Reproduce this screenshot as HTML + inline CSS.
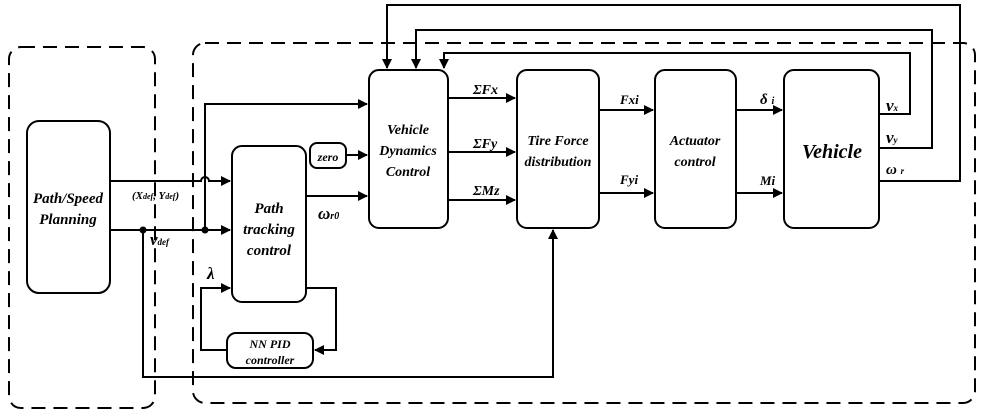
<!DOCTYPE html>
<html><head><style>
body{margin:0;background:#fff;}
svg{display:block;}
text{font-family:"Liberation Serif",serif;font-weight:bold;font-style:italic;fill:#000;}
</style></head><body>
<svg width="982" height="418" viewBox="0 0 982 418" xmlns="http://www.w3.org/2000/svg">
<defs><marker id="a" markerWidth="10" markerHeight="10" refX="9" refY="5" orient="auto" markerUnits="userSpaceOnUse"><path d="M0,0 L10,5 L0,10 z" fill="#000"/></marker></defs>
<g fill="none" stroke="#000" stroke-width="2" stroke-dasharray="14,8">
<rect x="9" y="47" width="146" height="361" rx="12"/>
<rect x="193" y="43" width="782" height="360" rx="12"/>
</g>
<g fill="#fff" stroke="#000" stroke-width="2">
<rect x="27" y="121" width="83" height="172" rx="12"/>
<rect x="232" y="146" width="74" height="156" rx="10"/>
<rect x="310" y="143" width="36" height="25" rx="7"/>
<rect x="227" y="333" width="86" height="35" rx="9"/>
<rect x="369" y="70" width="79" height="158" rx="10"/>
<rect x="517" y="70" width="82" height="158" rx="10"/>
<rect x="655" y="70" width="81" height="158" rx="10"/>
<rect x="784" y="70" width="95" height="158" rx="10"/>
</g>
<g fill="none" stroke="#000" stroke-width="2">
<path d="M110,181 H201 a4,4 0 0 1 8,0 H230" marker-end="url(#a)"/>
<path d="M110,230 H230" marker-end="url(#a)"/>
<path d="M205,230 V104 H367" marker-end="url(#a)"/>
<path d="M346,155 H367" marker-end="url(#a)"/>
<path d="M306,196 H367" marker-end="url(#a)"/>
<path d="M143,230 V377 H553 V230" marker-end="url(#a)"/>
<path d="M306,288 H336 V350 H315" marker-end="url(#a)"/>
<path d="M227,350 H201 V288 H230" marker-end="url(#a)"/>
<path d="M448,98 H515" marker-end="url(#a)"/>
<path d="M448,152 H515" marker-end="url(#a)"/>
<path d="M448,200 H515" marker-end="url(#a)"/>
<path d="M599,110 H653" marker-end="url(#a)"/>
<path d="M599,193 H653" marker-end="url(#a)"/>
<path d="M736,110 H782" marker-end="url(#a)"/>
<path d="M736,193 H782" marker-end="url(#a)"/>
<path d="M879,181 H960 V5 H387 V68" marker-end="url(#a)"/>
<path d="M879,148 H932 V30 H416 V68" marker-end="url(#a)"/>
<path d="M879,114 H910 V53 H444 V68" marker-end="url(#a)"/>
</g>
<circle cx="143" cy="230" r="3.5"/><circle cx="205" cy="230" r="3.5"/>
<g text-anchor="middle">
<text x="68" y="203" font-size="15">Path/Speed</text>
<text x="68" y="224" font-size="15">Planning</text>
<text x="269" y="213" font-size="15">Path</text>
<text x="269" y="234" font-size="15">tracking</text>
<text x="269" y="255" font-size="15">control</text>
<text x="328" y="161" font-size="12">zero</text>
<text x="270" y="348" font-size="12">NN PID</text>
<text x="270" y="364" font-size="12">controller</text>
<text x="408" y="134" font-size="14">Vehicle</text>
<text x="408" y="155" font-size="14">Dynamics</text>
<text x="408" y="176" font-size="14">Control</text>
<text x="558" y="145" font-size="14">Tire Force</text>
<text x="558" y="166" font-size="14">distribution</text>
<text x="695" y="145" font-size="14">Actuator</text>
<text x="695" y="166" font-size="14">control</text>
<text x="832" y="158" font-size="20">Vehicle</text>
</g>
<g font-size="13">
<text x="132" y="199" font-size="11">(X<tspan font-size="8">def</tspan>, Y<tspan font-size="8">def</tspan>)</text>
<text x="150" y="245" font-size="17">v<tspan font-size="9">def</tspan></text>
<text x="207" y="279" font-size="17" font-style="normal" font-weight="normal">λ</text>
<text x="318" y="219" font-size="17">ω<tspan font-size="10">r0</tspan></text>
<text x="473" y="94" font-size="14">ΣFx</text>
<text x="473" y="148" font-size="14">ΣFy</text>
<text x="473" y="195" font-size="14">ΣMz</text>
<text x="620" y="104">Fxi</text>
<text x="620" y="184">Fyi</text>
<text x="760" y="104" font-size="15">δ <tspan font-size="10">i</tspan></text>
<text x="760" y="185">Mi</text>
<text x="886" y="111" font-size="17">v<tspan font-size="9">x</tspan></text>
<text x="886" y="143" font-size="17">v<tspan font-size="9">y</tspan></text>
<text x="886" y="174" font-size="15">ω <tspan font-size="9">r</tspan></text>
</g>
</svg>
</body></html>
